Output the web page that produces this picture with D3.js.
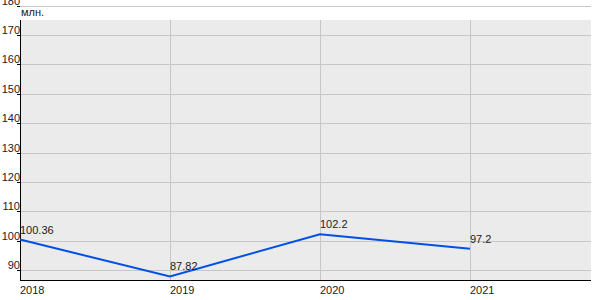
<!DOCTYPE html>
<html>
<head>
<meta charset="utf-8">
<script src="https://cdn.jsdelivr.net/npm/d3@7"></script>
<style>
  body { margin: 0; background: #fff; }
  text { font-family: Arial, "Liberation Sans", sans-serif; font-size: 11px; fill: #222; }
</style>
</head>
<body>
<div id="plot"></div>
<script>
// years on the x axis
const years = [2018, 2019, 2020, 2021]
// values, millions
const values = [100.36, 87.82, 102.2, 97.2]
// y tick values
const yTicks = [90, 100, 110, 120, 130, 140, 150, 160, 170, 180]
const unitLabel = 'млн.'

let data = years.map((y, i) => ({ year: y, value: values[i] }))

let svg = d3.select('#plot').append('svg')
    .attr('width', 600)
    .attr('height', 300)

// scales
let x = d3.scaleLinear()
    .domain([2018, 2021.807])
    .range([20, 591])
let y = d3.scaleLinear()
    .domain([86.6, 180])
    .range([280, 5.7])

// grey plot background
svg.append('rect')
    .attr('x', x(2018))
    .attr('y', 20)
    .attr('width', x(2021.807) - x(2018))
    .attr('height', 260)
    .attr('fill', '#ebebeb')

// horizontal grid
svg.selectAll('line.hgrid')
    .data(yTicks)
    .enter()
    .append('line')
    .attr('class', 'hgrid')
    .attr('x1', x(2018))
    .attr('x2', x(2021.807))
    .attr('y1', d => Math.round(y(d)) + 0.5)
    .attr('y2', d => Math.round(y(d)) + 0.5)
    .attr('stroke', '#c6c6c6')

// vertical grid
svg.selectAll('line.vgrid')
    .data(years.slice(1))
    .enter()
    .append('line')
    .attr('class', 'vgrid')
    .attr('x1', d => Math.round(x(d)) + 0.5)
    .attr('x2', d => Math.round(x(d)) + 0.5)
    .attr('y1', 20)
    .attr('y2', 280)
    .attr('stroke', '#c6c6c6')

// y axis: ticks on the left, labels sit right above the tick
let yAxis = svg.append('g')
yAxis.append('line')
    .attr('x1', 20.5).attr('x2', 20.5)
    .attr('y1', 20).attr('y2', 281)
    .attr('stroke', '#000')
yAxis.selectAll('line.tick')
    .data(yTicks)
    .enter()
    .append('line')
    .attr('class', 'tick')
    .attr('x1', 17).attr('x2', 20)
    .attr('y1', d => Math.round(y(d)) + 0.5)
    .attr('y2', d => Math.round(y(d)) + 0.5)
    .attr('stroke', '#000')
yAxis.selectAll('text')
    .data(yTicks)
    .enter()
    .append('text')
    .attr('x', 20)
    .attr('y', d => Math.round(y(d)) - 1)
    .attr('text-anchor', 'end')
    .text(d => d)

// unit label
svg.append('text')
    .attr('x', 21)
    .attr('y', 16)
    .text(unitLabel)

// x axis
svg.append('line')
    .attr('x1', 20).attr('x2', x(2021.807))
    .attr('y1', 280.5).attr('y2', 280.5)
    .attr('stroke', '#000')
svg.selectAll('text.xlab')
    .data(years)
    .enter()
    .append('text')
    .attr('class', 'xlab')
    .attr('x', d => x(d))
    .attr('y', 294)
    .text(d => d)

// the line
let line = d3.line()
    .x(d => x(d.year))
    .y(d => y(d.value))
svg.append('path')
    .datum(data)
    .attr('d', line)
    .attr('fill', 'none')
    .attr('stroke', '#0050e6')
    .attr('stroke-width', 2)

// value labels
svg.selectAll('text.val')
    .data(data)
    .enter()
    .append('text')
    .attr('class', 'val')
    .attr('x', d => x(d.year))
    .attr('y', d => y(d.value) - 6)
    .text(d => d.value)
</script>
</body>
</html>
